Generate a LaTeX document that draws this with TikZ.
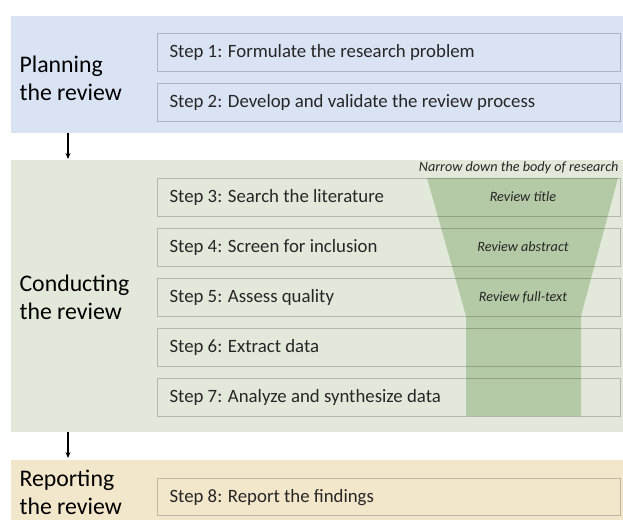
\documentclass[tikz,border=0pt]{standalone}
\usepackage{fontspec}
\setmainfont{Carlito}
\usetikzlibrary{arrows.meta}
\definecolor{planbg}{HTML}{DAE3F3}
\definecolor{condbg}{HTML}{E2E9DB}
\definecolor{repbg}{HTML}{F2E7CB}
\definecolor{funnel}{HTML}{B4CAA6}
\definecolor{txt}{HTML}{262626}
\begin{document}
\begin{tikzpicture}[x=1pt,y=-1pt,
  stepbox/.style={draw=black,draw opacity=0.2,line width=1.2pt,anchor=north west,minimum width=463pt,minimum height=38pt,inner sep=0pt},
  steptext/.style={anchor=west,font=\fontsize{18.8}{22}\selectfont,text=txt},
  phase/.style={anchor=west,align=left,font=\fontsize{23.8}{28}\selectfont,text=black},
  funtext/.style={font=\itshape\fontsize{14.2}{16}\selectfont,text=txt},
  flow/.style={-{Stealth[length=6pt,width=5pt]},line width=1.2pt}]
\useasboundingbox (0,0) rectangle (623,520);
% bands
\fill[planbg] (11,16) rectangle (623,133);
\fill[condbg] (11,160) rectangle (623,432);
\fill[repbg] (11,460) rectangle (623,520);
% funnel
\fill[funnel] (427,178) -- (618,178) -- (581,316) -- (581,416) -- (466,416) -- (466,316) -- cycle;
% phase labels
\node[phase] (plan) at (16,78) {Planning\\the review};
\node[phase] (cond) at (16,297) {Conducting\\the review};
\node[phase] (rep) at (16,492) {Reporting\\the review};
% step boxes
\node[stepbox] (s1) at (157,33) {};
\node[stepbox] (s2) at (157,83) {};
\node[stepbox] (s3) at (157,178) {};
\node[stepbox] (s4) at (157,228) {};
\node[stepbox] (s5) at (157,278) {};
\node[stepbox] (s6) at (157,328) {};
\node[stepbox] (s7) at (157,378) {};
\node[stepbox,minimum height=37pt] (s8) at (157,478) {};
\node[steptext] (t1) at ([xshift=9pt]s1.west) {Step 1: Formulate the research problem};
\node[steptext] (t2) at ([xshift=9pt]s2.west) {Step 2: Develop and validate the review process};
\node[steptext] (t3) at ([xshift=9pt]s3.west) {Step 3: Search the literature};
\node[steptext] (t4) at ([xshift=9pt]s4.west) {Step 4: Screen for inclusion};
\node[steptext] (t5) at ([xshift=9pt]s5.west) {Step 5: Assess quality};
\node[steptext] (t6) at ([xshift=9pt]s6.west) {Step 6: Extract data};
\node[steptext] (t7) at ([xshift=9pt]s7.west) {Step 7: Analyze and synthesize data};
\node[steptext] (t8) at ([xshift=9pt]s8.west) {Step 8: Report the findings};
% funnel texts
\node[funtext,anchor=east] (narrow) at (622,168) {Narrow down the body of research};
\node[funtext] (f1) at (523,197) {Review title};
\node[funtext] (f2) at (523,247) {Review abstract};
\node[funtext] (f3) at (523,297) {Review full-text};
% arrows
\coordinate (a1s) at (68,133);
\coordinate (a1e) at (68,159);
\coordinate (a2s) at (68,432);
\coordinate (a2e) at (68,458);
\draw[flow] (a1s) -- (a1e);
\draw[flow] (a2s) -- (a2e);
\end{tikzpicture}
\end{document}
